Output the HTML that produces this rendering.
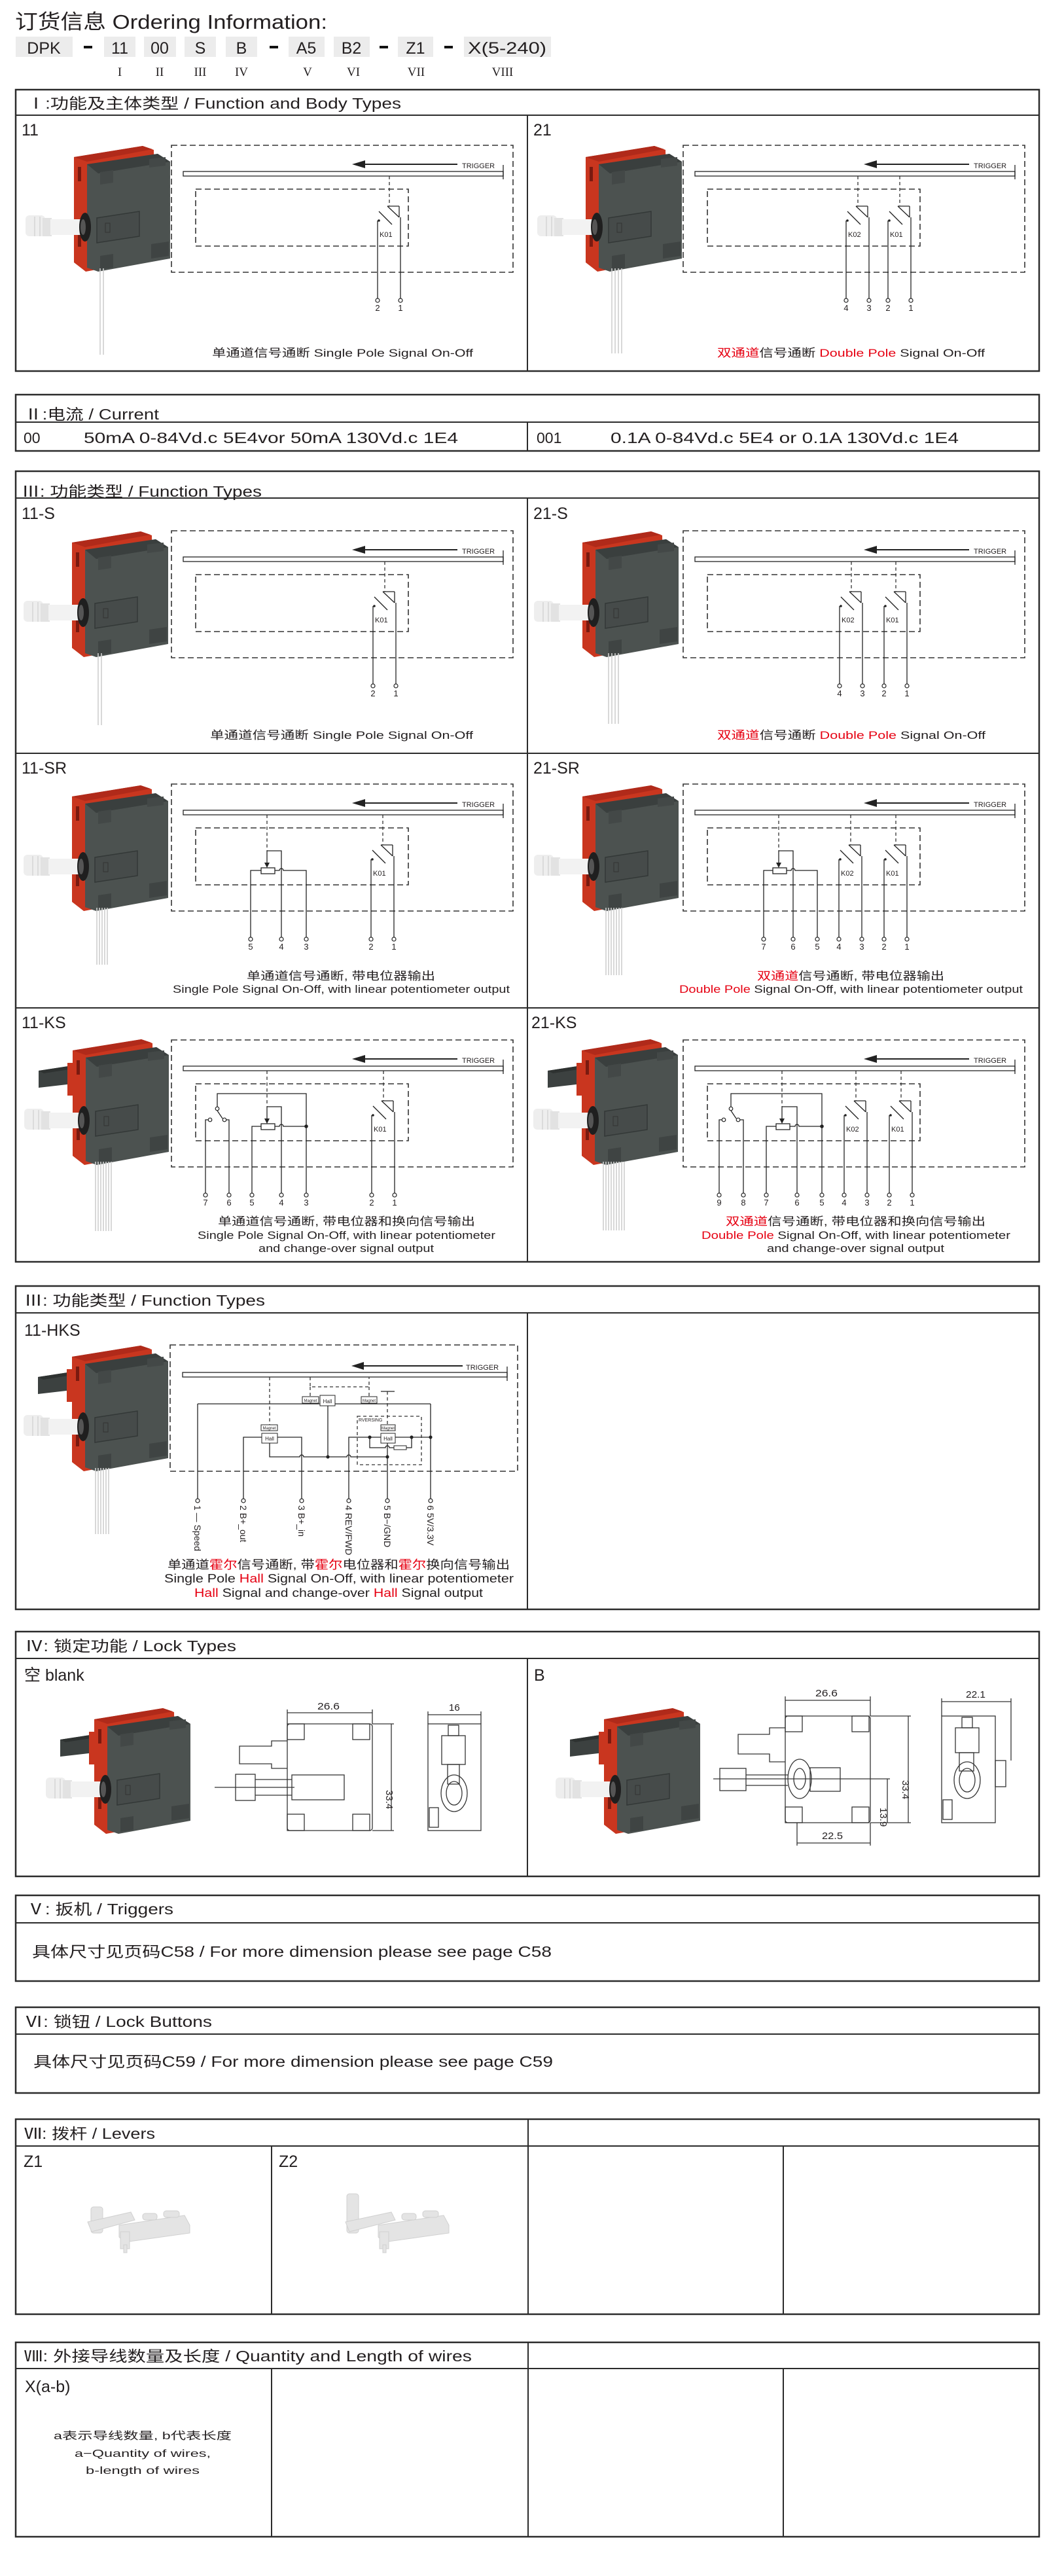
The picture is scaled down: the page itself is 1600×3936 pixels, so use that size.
<!DOCTYPE html>
<html><head><meta charset="utf-8">
<style>
html,body{margin:0;padding:0;background:#fff;}
svg{display:block;}
.t{font-family:"Liberation Sans","Noto Sans CJK SC",sans-serif;fill:#231f20;}
.s{font-family:"Liberation Serif","Noto Serif CJK SC",serif;fill:#231f20;}
.d{fill:none;stroke:#333;stroke-width:1.6;stroke-dasharray:9 5;}
.dd{fill:none;stroke:#333;stroke-width:1.3;stroke-dasharray:5 4;}
.l{fill:none;stroke:#222;stroke-width:1.3;}
.b{fill:none;stroke:#2b2b2b;stroke-width:2.5;}
.bi{fill:none;stroke:#2b2b2b;stroke-width:2;}
.c{fill:#fff;stroke:#222;stroke-width:1.2;}
.w{stroke:#cfcfcf;stroke-width:1.6;}
.r{fill:#e60012;}
.g{fill:none;stroke:#333;stroke-width:1.3;}
</style></head><body>
<svg width="1600" height="3936" viewBox="0 0 1600 3936" xmlns="http://www.w3.org/2000/svg" xmlns:xlink="http://www.w3.org/1999/xlink">
<defs>
 <g id="prod">
  <polygon points="0,17 105,0 122,6 125,172 18,192 0,178" fill="#c9361f"/>
  <polygon points="0,17 105,0 120,5 20,24" fill="#b02a1a"/>
  <polygon points="20,28 128,12 147,24 147,172 37,192 20,186" fill="#4c5250"/>
  <polygon points="20,28 128,12 147,24 37,42" fill="#3a3f3e"/>
  <rect x="6" y="32" width="5" height="22" fill="#7a1a10"/>
  <rect x="6" y="132" width="5" height="22" fill="#7a1a10"/>
  <polygon points="40,40 60,37 60,56 40,59" fill="#434847"/>
  <polygon points="115,20 140,17 140,30 115,33" fill="#434847"/>
  <polygon points="40,168 60,165 60,186 40,189" fill="#3f4443"/>
  <polygon points="118,150 145,146 145,168 118,172" fill="#3f4443"/>
  <polygon points="35,110 100,100 100,138 35,148" fill="#464b4a" stroke="#333837" stroke-width="1.5"/>
  <rect x="48" y="118" width="7" height="14" fill="none" stroke="#333" stroke-width="1"/>
  <rect x="-74" y="106" width="30" height="32" rx="6" fill="#eeeeee"/>
  <rect x="-48" y="110" width="14" height="28" fill="#e2e2e2"/>
  <rect x="-36" y="112" width="52" height="24" fill="#f2f2f2"/>
  <line x1="-60" y1="108" x2="-60" y2="138" stroke="#c8c8c8"/>
  <line x1="-52" y1="108" x2="-52" y2="138" stroke="#c8c8c8"/>
  <ellipse cx="17" cy="124" rx="9" ry="22" fill="#1f1f1f"/>
  <ellipse cx="14" cy="124" rx="4" ry="12" fill="#555"/>
 </g>
 <g id="lev">
  <polygon points="-52,48 0,40 0,68 -52,74" fill="#3c4140"/>
  <polygon points="-52,48 0,40 8,44 -44,52" fill="#2e3231"/>
  <rect x="-8" y="36" width="14" height="50" fill="#c9361f"/>
 </g>
 <g id="fr">
  <rect class="d" x="238" y="50" width="522" height="194"/>
  <rect x="256" y="90" width="489" height="7" fill="#fff" stroke="#222" stroke-width="1.3"/>
  <line class="l" x1="745" y1="80" x2="745" y2="102" stroke-width="2"/>
  <line x1="528" y1="79" x2="675" y2="79" stroke="#222" stroke-width="2"/>
  <polygon points="514,79 534,73 534,85" fill="#222"/>
  <rect class="d" x="275" y="117" width="325" height="87"/>
 </g>
 <g id="sw">
  <line class="l" x1="-3" y1="0" x2="15" y2="0"/>
  <line class="l" x1="-3" y1="0" x2="15" y2="17"/>
  <line class="l" x1="15" y1="0" x2="15" y2="17"/>
  <line class="l" x1="-16" y1="8" x2="4" y2="28"/>
  <circle cx="-16" cy="22" r="1.8" fill="#222"/>
 </g>
 <g id="pot">
  <rect x="-10" y="-4" width="21" height="9" fill="#fff" stroke="#222" stroke-width="1.3"/>
 </g>
</defs>

<!-- Title -->
<text class="t" x="23" y="44" font-size="31" textLength="477" lengthAdjust="spacingAndGlyphs">订货信息 Ordering Information:</text>
<g fill="#ececec">
<rect x="24" y="56" width="87" height="31"/><rect x="159" y="56" width="48" height="31"/><rect x="220" y="56" width="49" height="31"/>
<rect x="282" y="56" width="48" height="31"/><rect x="345" y="56" width="48" height="31"/><rect x="441" y="56" width="55" height="31"/>
<rect x="510" y="56" width="55" height="31"/><rect x="608" y="56" width="54" height="31"/><rect x="709" y="56" width="133" height="31"/>
</g>
<g fill="#111"><rect x="128" y="70" width="13" height="4"/><rect x="412" y="70" width="13" height="4"/><rect x="580" y="70" width="13" height="4"/><rect x="679" y="70" width="13" height="4"/></g>
<g class="t" font-size="25" text-anchor="middle">
<text x="67" y="82">DPK</text><text x="183" y="82">11</text><text x="244" y="82">00</text><text x="306" y="82">S</text><text x="369" y="82">B</text>
<text x="468" y="82">A5</text><text x="537" y="82">B2</text><text x="635" y="82">Z1</text><text x="775" y="82" textLength="120" lengthAdjust="spacingAndGlyphs">X(5-240)</text>
</g>
<g class="s" font-size="19" text-anchor="middle">
<text x="183" y="116">I</text><text x="244" y="116">II</text><text x="306" y="116">III</text><text x="369" y="116">IV</text>
<text x="470" y="116">V</text><text x="540" y="116">VI</text><text x="636" y="116">VII</text><text x="768" y="116">VIII</text>
</g>

<!-- Section frames -->
<g>
<rect class="b" x="24" y="137" width="1564" height="430"/><line class="bi" x1="24" y1="176" x2="1588" y2="176"/><line class="bi" x1="806" y1="176" x2="806" y2="567"/>
<rect class="b" x="24" y="603" width="1564" height="86"/><line class="bi" x1="24" y1="645" x2="1588" y2="645"/><line class="bi" x1="806" y1="645" x2="806" y2="689"/>
<rect class="b" x="24" y="720" width="1564" height="1208"/><line class="bi" x1="24" y1="761" x2="1588" y2="761"/><line class="bi" x1="806" y1="761" x2="806" y2="1928"/>
<line class="bi" x1="24" y1="1151" x2="1588" y2="1151"/><line class="bi" x1="24" y1="1540" x2="1588" y2="1540"/>
<rect class="b" x="24" y="1965" width="1564" height="494"/><line class="bi" x1="24" y1="2006" x2="1588" y2="2006"/><line class="bi" x1="806" y1="2006" x2="806" y2="2459"/>
<rect class="b" x="24" y="2493" width="1564" height="374"/><line class="bi" x1="24" y1="2534" x2="1588" y2="2534"/><line class="bi" x1="806" y1="2534" x2="806" y2="2867"/>
<rect class="b" x="24" y="2896" width="1564" height="131"/><line class="bi" x1="24" y1="2938" x2="1588" y2="2938"/>
<rect class="b" x="24" y="3067" width="1564" height="131"/><line class="bi" x1="24" y1="3108" x2="1588" y2="3108"/>
<rect class="b" x="24" y="3238" width="1564" height="298"/><line class="bi" x1="24" y1="3279" x2="1588" y2="3279"/><line class="bi" x1="807" y1="3238" x2="807" y2="3536"/><line class="bi" x1="415" y1="3279" x2="415" y2="3536"/><line class="bi" x1="1197" y1="3279" x2="1197" y2="3536"/>
<rect class="b" x="24" y="3579" width="1564" height="297"/><line class="bi" x1="24" y1="3619" x2="1588" y2="3619"/><line class="bi" x1="807" y1="3579" x2="807" y2="3876"/><line class="bi" x1="415" y1="3619" x2="415" y2="3876"/><line class="bi" x1="1197" y1="3619" x2="1197" y2="3876"/>
</g>

<!-- Headers -->
<g class="t" font-size="23">
<text x="41" y="166" textLength="572" lengthAdjust="spacingAndGlyphs">Ⅰ:功能及主体类型 / Function and Body Types</text>
<text x="37" y="641" textLength="206" lengthAdjust="spacingAndGlyphs">Ⅱ:电流 / Current</text>
<text x="33" y="759" textLength="367" lengthAdjust="spacingAndGlyphs">Ⅲ: 功能类型 / Function Types</text>
<text x="37" y="1995" textLength="368" lengthAdjust="spacingAndGlyphs">Ⅲ: 功能类型 / Function Types</text>
<text x="38" y="2523" textLength="323" lengthAdjust="spacingAndGlyphs">Ⅳ: 锁定功能 / Lock Types</text>
<text x="41" y="2925" textLength="224" lengthAdjust="spacingAndGlyphs">Ⅴ: 扳机  / Triggers</text>
<text x="38" y="3097" textLength="286" lengthAdjust="spacingAndGlyphs">Ⅵ: 锁钮  / Lock Buttons</text>
<text x="37" y="3268" textLength="200" lengthAdjust="spacingAndGlyphs">Ⅶ: 拨杆 / Levers</text>
<text x="37" y="3608" textLength="684" lengthAdjust="spacingAndGlyphs">Ⅷ: 外接导线数量及长度  / Quantity and Length of wires</text>
<text x="49" y="2990" textLength="794" lengthAdjust="spacingAndGlyphs">具体尺寸见页码C58 / For more dimension please see page C58</text>
<text x="51" y="3158" textLength="794" lengthAdjust="spacingAndGlyphs">具体尺寸见页码C59 / For more dimension please see page C59</text>
<text x="36" y="677">00</text>
<text x="128" y="677" textLength="572" lengthAdjust="spacingAndGlyphs">50mA  0-84Vd.c  5E4vor 50mA  130Vd.c  1E4</text>
<text x="820" y="677">001</text>
<text x="933" y="677" textLength="532" lengthAdjust="spacingAndGlyphs">0.1A  0-84Vd.c  5E4 or 0.1A  130Vd.c  1E4</text>
</g>
<!-- Row labels -->
<g class="t" font-size="25">
<text x="33" y="207">11</text><text x="815" y="207">21</text>
<text x="33" y="793">11-S</text><text x="815" y="793">21-S</text>
<text x="33" y="1182">11-SR</text><text x="815" y="1182">21-SR</text>
<text x="33" y="1571">11-KS</text><text x="812" y="1571">21-KS</text>
<text x="37" y="2041">11-HKS</text>
<text x="37" y="2568">空 blank</text><text x="816" y="2568">B</text>
<text x="36" y="3311">Z1</text><text x="426" y="3311">Z2</text>
<text x="38" y="3655">X(a-b)</text>
</g>

<!-- Products -->
<g>
<use xlink:href="#prod" x="113" y="223"/>
<g class="w"><line x1="153" y1="410" x2="153" y2="542"/><line x1="158" y1="410" x2="158" y2="542"/></g>
<use xlink:href="#prod" x="895" y="223"/>
<g class="w"><line x1="935" y1="410" x2="935" y2="540"/><line x1="940" y1="410" x2="940" y2="540"/><line x1="945" y1="410" x2="945" y2="540"/><line x1="950" y1="410" x2="950" y2="540"/></g>
<use xlink:href="#prod" x="110" y="812"/>
<g class="w"><line x1="150" y1="998" x2="150" y2="1108"/><line x1="155" y1="998" x2="155" y2="1108"/></g>
<use xlink:href="#prod" x="890" y="812"/>
<g class="w"><line x1="930" y1="998" x2="930" y2="1106"/><line x1="935" y1="998" x2="935" y2="1106"/><line x1="940" y1="998" x2="940" y2="1106"/><line x1="945" y1="998" x2="945" y2="1106"/></g>
<use xlink:href="#prod" x="110" y="1200"/>
<g class="w"><line x1="148" y1="1387" x2="148" y2="1474"/><line x1="152" y1="1387" x2="152" y2="1474"/><line x1="156" y1="1387" x2="156" y2="1474"/><line x1="160" y1="1387" x2="160" y2="1474"/><line x1="164" y1="1387" x2="164" y2="1474"/></g>
<use xlink:href="#prod" x="890" y="1200"/>
<g class="w"><line x1="926" y1="1387" x2="926" y2="1490"/><line x1="930" y1="1387" x2="930" y2="1490"/><line x1="934" y1="1387" x2="934" y2="1490"/><line x1="938" y1="1387" x2="938" y2="1490"/><line x1="942" y1="1387" x2="942" y2="1490"/><line x1="946" y1="1387" x2="946" y2="1490"/><line x1="950" y1="1387" x2="950" y2="1490"/></g>
<use xlink:href="#lev" x="111" y="1588"/><use xlink:href="#prod" x="111" y="1588"/>
<g class="w"><line x1="146" y1="1775" x2="146" y2="1881"/><line x1="150" y1="1775" x2="150" y2="1881"/><line x1="154" y1="1775" x2="154" y2="1881"/><line x1="158" y1="1775" x2="158" y2="1881"/><line x1="162" y1="1775" x2="162" y2="1881"/><line x1="166" y1="1775" x2="166" y2="1881"/><line x1="170" y1="1775" x2="170" y2="1881"/></g>
<use xlink:href="#lev" x="889" y="1588"/><use xlink:href="#prod" x="889" y="1588"/>
<g class="w"><line x1="922" y1="1775" x2="922" y2="1880"/><line x1="926" y1="1775" x2="926" y2="1880"/><line x1="930" y1="1775" x2="930" y2="1880"/><line x1="934" y1="1775" x2="934" y2="1880"/><line x1="938" y1="1775" x2="938" y2="1880"/><line x1="942" y1="1775" x2="942" y2="1880"/><line x1="946" y1="1775" x2="946" y2="1880"/><line x1="950" y1="1775" x2="950" y2="1880"/><line x1="954" y1="1775" x2="954" y2="1880"/></g>
<use xlink:href="#lev" x="110" y="2056"/><use xlink:href="#prod" x="110" y="2056"/>
<g class="w"><line x1="146" y1="2243" x2="146" y2="2344"/><line x1="150" y1="2243" x2="150" y2="2344"/><line x1="154" y1="2243" x2="154" y2="2344"/><line x1="158" y1="2243" x2="158" y2="2344"/><line x1="162" y1="2243" x2="162" y2="2344"/><line x1="166" y1="2243" x2="166" y2="2344"/></g>
<use xlink:href="#lev" x="144" y="2610"/><use xlink:href="#prod" x="144" y="2610"/>
<use xlink:href="#lev" x="923" y="2610"/><use xlink:href="#prod" x="923" y="2610"/>
</g>

<!-- ===== Section I circuits ===== -->
<g transform="translate(24,172)">
<use xlink:href="#fr"/>
<text class="t" x="682" y="85" font-size="11">TRIGGER</text>
<line class="dd" x1="571" y1="97" x2="571" y2="143"/><use xlink:href="#sw" x="571" y="143"/>
<text class="t" x="556" y="190" font-size="11">K01</text>
<line class="l" x1="553" y1="165" x2="553" y2="284"/><line class="l" x1="588" y1="160" x2="588" y2="284"/>
<circle class="c" cx="553" cy="287" r="3"/><circle class="c" cx="588" cy="287" r="3"/>
<g class="t" font-size="13" text-anchor="middle"><text x="553" y="303">2</text><text x="588" y="303">1</text></g>
</g>
<g transform="translate(806,172)">
<use xlink:href="#fr"/>
<text class="t" x="682" y="85" font-size="11">TRIGGER</text>
<line class="dd" x1="505" y1="97" x2="505" y2="143"/><use xlink:href="#sw" x="505" y="143"/>
<line class="dd" x1="569" y1="97" x2="569" y2="143"/><use xlink:href="#sw" x="569" y="143"/>
<text class="t" x="490" y="190" font-size="11">K02</text><text class="t" x="554" y="190" font-size="11">K01</text>
<line class="l" x1="487" y1="165" x2="487" y2="284"/><line class="l" x1="522" y1="160" x2="522" y2="284"/>
<line class="l" x1="551" y1="165" x2="551" y2="284"/><line class="l" x1="586" y1="160" x2="586" y2="284"/>
<circle class="c" cx="487" cy="287" r="3"/><circle class="c" cx="522" cy="287" r="3"/><circle class="c" cx="551" cy="287" r="3"/><circle class="c" cx="586" cy="287" r="3"/>
<g class="t" font-size="13" text-anchor="middle"><text x="487" y="303">4</text><text x="522" y="303">3</text><text x="551" y="303">2</text><text x="586" y="303">1</text></g>
</g>
<g class="t" font-size="17">
<text x="324" y="545" textLength="399" lengthAdjust="spacingAndGlyphs">单通道信号通断  Single Pole Signal On-Off</text>
<text x="1096" y="545" textLength="409" lengthAdjust="spacingAndGlyphs"><tspan class="r">双通道</tspan>信号通断  <tspan class="r">Double Pole</tspan> Signal On-Off</text>
</g>

<!-- ===== III-S ===== -->
<g transform="translate(24,761)">
<use xlink:href="#fr"/>
<text class="t" x="682" y="85" font-size="11">TRIGGER</text>
<line class="dd" x1="564" y1="97" x2="564" y2="143"/><use xlink:href="#sw" x="564" y="143"/>
<text class="t" x="549" y="190" font-size="11">K01</text>
<line class="l" x1="546" y1="165" x2="546" y2="284"/><line class="l" x1="581" y1="160" x2="581" y2="284"/>
<circle class="c" cx="546" cy="287" r="3"/><circle class="c" cx="581" cy="287" r="3"/>
<g class="t" font-size="13" text-anchor="middle"><text x="546" y="303">2</text><text x="581" y="303">1</text></g>
</g>
<g transform="translate(806,761)">
<use xlink:href="#fr"/>
<text class="t" x="682" y="85" font-size="11">TRIGGER</text>
<line class="dd" x1="495" y1="97" x2="495" y2="143"/><use xlink:href="#sw" x="495" y="143"/>
<line class="dd" x1="563" y1="97" x2="563" y2="143"/><use xlink:href="#sw" x="563" y="143"/>
<text class="t" x="480" y="190" font-size="11">K02</text><text class="t" x="548" y="190" font-size="11">K01</text>
<line class="l" x1="477" y1="165" x2="477" y2="284"/><line class="l" x1="512" y1="160" x2="512" y2="284"/>
<line class="l" x1="545" y1="165" x2="545" y2="284"/><line class="l" x1="580" y1="160" x2="580" y2="284"/>
<circle class="c" cx="477" cy="287" r="3"/><circle class="c" cx="512" cy="287" r="3"/><circle class="c" cx="545" cy="287" r="3"/><circle class="c" cx="580" cy="287" r="3"/>
<g class="t" font-size="13" text-anchor="middle"><text x="477" y="303">4</text><text x="512" y="303">3</text><text x="545" y="303">2</text><text x="580" y="303">1</text></g>
</g>
<g class="t" font-size="17">
<text x="321" y="1129" textLength="402" lengthAdjust="spacingAndGlyphs">单通道信号通断  Single Pole Signal On-Off</text>
<text x="1096" y="1129" textLength="410" lengthAdjust="spacingAndGlyphs"><tspan class="r">双通道</tspan>信号通断  <tspan class="r">Double Pole</tspan> Signal On-Off</text>
</g>

<!-- ===== III-SR ===== -->
<g transform="translate(24,1148)">
<use xlink:href="#fr"/>
<text class="t" x="682" y="85" font-size="11">TRIGGER</text>
<line class="dd" x1="384" y1="97" x2="384" y2="152"/>
<polyline class="l" points="384,152 406,152 406,284"/>
<line class="l" x1="384" y1="152" x2="384" y2="172"/><polygon points="380,170 388,170 384,178" fill="#222"/>
<use xlink:href="#pot" x="385" y="182"/>
<polyline class="l" points="375,182 359,182 359,284"/>
<path class="l" d="M396,182 H403 A3,3 0 0 1 409,182 H444 V284"/>
<line class="dd" x1="561" y1="97" x2="561" y2="143"/><use xlink:href="#sw" x="561" y="143"/>
<text class="t" x="546" y="190" font-size="11">K01</text>
<line class="l" x1="543" y1="165" x2="543" y2="284"/><line class="l" x1="578" y1="160" x2="578" y2="284"/>
<g><circle class="c" cx="359" cy="287" r="3"/><circle class="c" cx="406" cy="287" r="3"/><circle class="c" cx="444" cy="287" r="3"/><circle class="c" cx="543" cy="287" r="3"/><circle class="c" cx="578" cy="287" r="3"/></g>
<g class="t" font-size="13" text-anchor="middle"><text x="359" y="303">5</text><text x="406" y="303">4</text><text x="444" y="303">3</text><text x="543" y="303">2</text><text x="578" y="303">1</text></g>
</g>
<g transform="translate(806,1148)">
<use xlink:href="#fr"/>
<text class="t" x="682" y="85" font-size="11">TRIGGER</text>
<line class="dd" x1="384" y1="97" x2="384" y2="152"/>
<polyline class="l" points="384,152 406,152 406,284"/>
<line class="l" x1="384" y1="152" x2="384" y2="172"/><polygon points="380,170 388,170 384,178" fill="#222"/>
<use xlink:href="#pot" x="385" y="182"/>
<polyline class="l" points="375,182 361,182 361,284"/>
<path class="l" d="M396,182 H403 A3,3 0 0 1 409,182 H443 V284"/>
<line class="dd" x1="494" y1="97" x2="494" y2="143"/><use xlink:href="#sw" x="494" y="143"/>
<line class="dd" x1="563" y1="97" x2="563" y2="143"/><use xlink:href="#sw" x="563" y="143"/>
<text class="t" x="479" y="190" font-size="11">K02</text><text class="t" x="548" y="190" font-size="11">K01</text>
<line class="l" x1="476" y1="165" x2="476" y2="284"/><line class="l" x1="511" y1="160" x2="511" y2="284"/>
<line class="l" x1="545" y1="165" x2="545" y2="284"/><line class="l" x1="580" y1="160" x2="580" y2="284"/>
<g><circle class="c" cx="361" cy="287" r="3"/><circle class="c" cx="406" cy="287" r="3"/><circle class="c" cx="443" cy="287" r="3"/><circle class="c" cx="476" cy="287" r="3"/><circle class="c" cx="511" cy="287" r="3"/><circle class="c" cx="545" cy="287" r="3"/><circle class="c" cx="580" cy="287" r="3"/></g>
<g class="t" font-size="13" text-anchor="middle"><text x="361" y="303">7</text><text x="406" y="303">6</text><text x="443" y="303">5</text><text x="476" y="303">4</text><text x="511" y="303">3</text><text x="545" y="303">2</text><text x="580" y="303">1</text></g>
</g>
<g class="t" font-size="17">
<text x="377" y="1497" textLength="288" lengthAdjust="spacingAndGlyphs">单通道信号通断, 带电位器输出</text>
<text x="264" y="1517" textLength="515" lengthAdjust="spacingAndGlyphs">Single Pole Signal On-Off,  with linear potentiometer output</text>
<text x="1157" y="1497" textLength="286" lengthAdjust="spacingAndGlyphs"><tspan class="r">双通道</tspan>信号通断, 带电位器输出</text>
<text x="1038" y="1517" textLength="525" lengthAdjust="spacingAndGlyphs"><tspan class="r">Double Pole</tspan> Signal On-Off,  with linear potentiometer output</text>
</g>

<!-- ===== III-KS ===== -->
<g transform="translate(24,1539)">
<use xlink:href="#fr"/>
<text class="t" x="682" y="85" font-size="11">TRIGGER</text>
<polyline class="l" points="308,152 308,132 444,132 444,284"/>
<circle class="c" cx="308" cy="155" r="2.8"/>
<line class="l" x1="308" y1="158" x2="316" y2="170"/>
<circle class="c" cx="297" cy="172" r="2.8"/><circle class="c" cx="319" cy="172" r="2.8"/>
<polyline class="l" points="294,172 290,172 290,284"/><polyline class="l" points="322,172 326,172 326,284"/>
<line class="dd" x1="384" y1="97" x2="384" y2="152"/>
<polyline class="l" points="384,152 406,152 406,284"/>
<line class="l" x1="384" y1="152" x2="384" y2="172"/><polygon points="380,170 388,170 384,178" fill="#222"/>
<use xlink:href="#pot" x="385" y="182"/>
<polyline class="l" points="375,182 361,182 361,284"/>
<path class="l" d="M396,182 H403 A3,3 0 0 1 409,182 H444"/>
<circle cx="444" cy="182" r="2.8" fill="#222"/>
<line class="dd" x1="562" y1="97" x2="562" y2="143"/><use xlink:href="#sw" x="562" y="143"/>
<text class="t" x="547" y="190" font-size="11">K01</text>
<line class="l" x1="544" y1="165" x2="544" y2="284"/><line class="l" x1="579" y1="160" x2="579" y2="284"/>
<g><circle class="c" cx="290" cy="287" r="3"/><circle class="c" cx="326" cy="287" r="3"/><circle class="c" cx="361" cy="287" r="3"/><circle class="c" cx="406" cy="287" r="3"/><circle class="c" cx="444" cy="287" r="3"/><circle class="c" cx="544" cy="287" r="3"/><circle class="c" cx="579" cy="287" r="3"/></g>
<g class="t" font-size="13" text-anchor="middle"><text x="290" y="303">7</text><text x="326" y="303">6</text><text x="361" y="303">5</text><text x="406" y="303">4</text><text x="444" y="303">3</text><text x="544" y="303">2</text><text x="579" y="303">1</text></g>
</g>
<g transform="translate(806,1539)">
<use xlink:href="#fr"/>
<text class="t" x="682" y="85" font-size="11">TRIGGER</text>
<polyline class="l" points="311,152 311,132 450,132 450,284"/>
<circle class="c" cx="311" cy="155" r="2.8"/>
<line class="l" x1="311" y1="158" x2="319" y2="170"/>
<circle class="c" cx="300" cy="172" r="2.8"/><circle class="c" cx="322" cy="172" r="2.8"/>
<polyline class="l" points="297,172 293,172 293,284"/><polyline class="l" points="325,172 330,172 330,284"/>
<line class="dd" x1="389" y1="97" x2="389" y2="152"/>
<polyline class="l" points="389,152 412,152 412,284"/>
<line class="l" x1="389" y1="152" x2="389" y2="172"/><polygon points="385,170 393,170 389,178" fill="#222"/>
<use xlink:href="#pot" x="390" y="182"/>
<polyline class="l" points="380,182 365,182 365,284"/>
<path class="l" d="M401,182 H409 A3,3 0 0 1 415,182 H450"/>
<circle cx="450" cy="182" r="2.8" fill="#222"/>
<line class="dd" x1="502" y1="97" x2="502" y2="143"/><use xlink:href="#sw" x="502" y="143"/>
<line class="dd" x1="571" y1="97" x2="571" y2="143"/><use xlink:href="#sw" x="571" y="143"/>
<text class="t" x="487" y="190" font-size="11">K02</text><text class="t" x="556" y="190" font-size="11">K01</text>
<line class="l" x1="484" y1="165" x2="484" y2="284"/><line class="l" x1="519" y1="160" x2="519" y2="284"/>
<line class="l" x1="553" y1="165" x2="553" y2="284"/><line class="l" x1="588" y1="160" x2="588" y2="284"/>
<g><circle class="c" cx="293" cy="287" r="3"/><circle class="c" cx="330" cy="287" r="3"/><circle class="c" cx="365" cy="287" r="3"/><circle class="c" cx="412" cy="287" r="3"/><circle class="c" cx="450" cy="287" r="3"/><circle class="c" cx="484" cy="287" r="3"/><circle class="c" cx="519" cy="287" r="3"/><circle class="c" cx="553" cy="287" r="3"/><circle class="c" cx="588" cy="287" r="3"/></g>
<g class="t" font-size="13" text-anchor="middle"><text x="293" y="303">9</text><text x="330" y="303">8</text><text x="365" y="303">7</text><text x="412" y="303">6</text><text x="450" y="303">5</text><text x="484" y="303">4</text><text x="519" y="303">3</text><text x="553" y="303">2</text><text x="588" y="303">1</text></g>
</g>
<g class="t" font-size="17">
<text x="333" y="1872" textLength="393" lengthAdjust="spacingAndGlyphs">单通道信号通断, 带电位器和换向信号输出</text>
<text x="302" y="1893" textLength="455" lengthAdjust="spacingAndGlyphs">Single Pole Signal On-Off,  with linear potentiometer</text>
<text x="395" y="1913" textLength="268" lengthAdjust="spacingAndGlyphs">and change-over signal output</text>
<text x="1109" y="1872" textLength="397" lengthAdjust="spacingAndGlyphs"><tspan class="r">双通道</tspan>信号通断, 带电位器和换向信号输出</text>
<text x="1072" y="1893" textLength="472" lengthAdjust="spacingAndGlyphs"><tspan class="r">Double Pole</tspan> Signal On-Off,  with linear potentiometer</text>
<text x="1172" y="1913" textLength="271" lengthAdjust="spacingAndGlyphs">and change-over signal output</text>
</g>

<!-- ===== HKS ===== -->
<g>
<rect class="d" x="260" y="2055" width="531" height="193"/>
<rect x="279" y="2097" width="496" height="7" fill="#fff" stroke="#222" stroke-width="1.3"/>
<line class="l" x1="775" y1="2088" x2="775" y2="2110" stroke-width="2"/>
<line x1="551" y1="2087" x2="707" y2="2087" stroke="#222" stroke-width="2"/>
<polygon points="537,2087 556,2081 556,2093" fill="#222"/>
<text class="t" x="712" y="2093" font-size="11">TRIGGER</text>
<line class="dd" x1="412" y1="2104" x2="412" y2="2177"/>
<polyline class="dd" points="474,2104 474,2119 564,2119 564,2104"/>
<line class="dd" x1="474" y1="2119" x2="474" y2="2134"/><line class="dd" x1="564" y1="2119" x2="564" y2="2134"/>
<line class="l" x1="582" y1="2126" x2="603" y2="2126"/><line class="dd" x1="592" y1="2126" x2="592" y2="2178"/>
<line class="l" x1="302" y1="2145" x2="658" y2="2145"/>
<rect x="462" y="2134" width="25" height="10" fill="#fff" stroke="#222"/><text class="t" x="474.5" y="2142" font-size="6" text-anchor="middle">Magnet</text>
<rect x="552" y="2134" width="24" height="10" fill="#fff" stroke="#222"/><text class="t" x="564" y="2142" font-size="6" text-anchor="middle">Magnet</text>
<rect x="489" y="2132" width="23" height="16" fill="#fff" stroke="#222"/><text class="t" x="500.5" y="2144" font-size="8" text-anchor="middle">Hall</text>
<line class="l" x1="501" y1="2148" x2="501" y2="2226"/>
<rect x="399" y="2177" width="25" height="9" fill="#fff" stroke="#222"/><text class="t" x="411.5" y="2184" font-size="6" text-anchor="middle">Magnet</text>
<rect x="400" y="2190" width="24" height="15" fill="#fff" stroke="#222"/><text class="t" x="412" y="2201" font-size="8" text-anchor="middle">Hall</text>
<polyline class="l" points="400,2196 372,2196 372,2290"/>
<polyline class="l" points="424,2196 461,2196 461,2290"/>
<path class="l" d="M412,2205 V2226 H458 A3,3 0 0 1 464,2226 H530 A3,3 0 0 1 536,2226 H592"/>
<circle cx="501" cy="2226" r="2.6" fill="#222"/><circle cx="592" cy="2226" r="2.6" fill="#222"/>
<rect class="dd" x="546" y="2164" width="98" height="74"/>
<text class="t" x="548" y="2172" font-size="7">RVERSING</text>
<rect x="582" y="2177" width="22" height="9" fill="#fff" stroke="#222"/><text class="t" x="593" y="2184" font-size="6" text-anchor="middle">Magnet</text>
<rect x="582" y="2190" width="22" height="15" fill="#fff" stroke="#222"/><text class="t" x="593" y="2201" font-size="8" text-anchor="middle">Hall</text>
<polyline class="l" points="533,2290 533,2196 582,2196"/>
<line class="l" x1="604" y1="2196" x2="658" y2="2196"/>
<circle cx="565" cy="2196" r="2.6" fill="#222"/><circle cx="629" cy="2196" r="2.6" fill="#222"/><circle cx="658" cy="2196" r="2.6" fill="#222"/>
<path class="l" d="M565,2196 V2212 H589 A3,3 0 0 1 595,2212 H602"/>
<rect x="602" y="2209" width="19" height="6" fill="#fff" stroke="#222"/>
<polyline class="l" points="621,2212 629,2212 629,2196"/>
<line class="l" x1="592" y1="2205" x2="592" y2="2290"/>
<line class="l" x1="302" y1="2145" x2="302" y2="2290"/>
<line class="l" x1="658" y1="2145" x2="658" y2="2290"/>
<g><circle class="c" cx="302" cy="2293" r="3"/><circle class="c" cx="372" cy="2293" r="3"/><circle class="c" cx="461" cy="2293" r="3"/><circle class="c" cx="533" cy="2293" r="3"/><circle class="c" cx="592" cy="2293" r="3"/><circle class="c" cx="658" cy="2293" r="3"/></g>
<g class="t" font-size="14">
<text transform="translate(297,2300) rotate(90)">1 — Speed</text>
<text transform="translate(367,2300) rotate(90)">2 B+_out</text>
<text transform="translate(456,2300) rotate(90)">3 B+_in</text>
<text transform="translate(528,2300) rotate(90)">4 REV/FWD</text>
<text transform="translate(587,2300) rotate(90)">5 B−/GND</text>
<text transform="translate(653,2300) rotate(90)">6 5V/3.3V</text>
</g>
<g class="t" font-size="18">
<text x="256" y="2397" textLength="523" lengthAdjust="spacingAndGlyphs">单通道<tspan class="r">霍尔</tspan>信号通断, 带<tspan class="r">霍尔</tspan>电位器和<tspan class="r">霍尔</tspan>换向信号输出</text>
<text x="251" y="2418" textLength="534" lengthAdjust="spacingAndGlyphs">Single Pole <tspan class="r">Hall</tspan> Signal On-Off,  with linear potentiometer</text>
<text x="297" y="2440" textLength="441" lengthAdjust="spacingAndGlyphs"><tspan class="r">Hall</tspan> Signal and change-over <tspan class="r">Hall</tspan> Signal output</text>
</g>
</g>

<!-- ===== Lock drawings ===== -->
<g class="g">
<!-- blank side view -->
<rect x="439" y="2634" width="130" height="163" rx="4"/>
<rect x="439" y="2634" width="26" height="24"/><rect x="539" y="2634" width="26" height="24"/>
<rect x="439" y="2772" width="26" height="25"/><rect x="539" y="2772" width="26" height="25"/>
<polyline points="439,2660 415,2660 415,2668 366,2668 366,2695 415,2695 415,2702 439,2702"/>
<rect x="446" y="2712" width="80" height="38"/>
<rect x="360" y="2711" width="30" height="40"/><line x1="390" y1="2719" x2="446" y2="2719"/><line x1="390" y1="2743" x2="446" y2="2743"/>
<line x1="328" y1="2731" x2="450" y2="2731"/>
<line x1="439" y1="2617" x2="569" y2="2617"/><line x1="439" y1="2612" x2="439" y2="2634"/><line x1="569" y1="2612" x2="569" y2="2634"/>
<line x1="598" y1="2634" x2="598" y2="2797"/><line x1="569" y1="2634" x2="602" y2="2634"/><line x1="569" y1="2797" x2="602" y2="2797"/>
<!-- blank front -->
<rect x="654" y="2634" width="81" height="163"/>
<rect x="685" y="2636" width="16" height="16"/><rect x="675" y="2652" width="36" height="44"/><rect x="684" y="2696" width="18" height="30"/>
<ellipse cx="694" cy="2740" rx="20" ry="28"/><ellipse cx="694" cy="2740" rx="12" ry="18"/>
<rect x="656" y="2762" width="14" height="30"/>
<line x1="654" y1="2620" x2="735" y2="2620"/><line x1="654" y1="2615" x2="654" y2="2634"/><line x1="735" y1="2615" x2="735" y2="2634"/>
<!-- B side view -->
<rect x="1200" y="2622" width="130" height="163" rx="4"/>
<rect x="1200" y="2622" width="26" height="24"/><rect x="1302" y="2622" width="26" height="24"/>
<rect x="1200" y="2761" width="26" height="24"/><rect x="1302" y="2761" width="26" height="24"/>
<polyline points="1200,2640 1176,2640 1176,2650 1128,2650 1128,2680 1176,2680 1176,2692 1200,2692"/>
<ellipse cx="1222" cy="2718" rx="18" ry="30"/><ellipse cx="1222" cy="2718" rx="9" ry="16"/>
<rect x="1238" y="2701" width="46" height="36"/>
<rect x="1100" y="2702" width="40" height="34"/><line x1="1140" y1="2712" x2="1204" y2="2712"/><line x1="1140" y1="2728" x2="1204" y2="2728"/>
<line x1="1090" y1="2718" x2="1360" y2="2718"/>
<line x1="1200" y1="2598" x2="1330" y2="2598"/><line x1="1200" y1="2592" x2="1200" y2="2622"/><line x1="1330" y1="2592" x2="1330" y2="2622"/>
<line x1="1388" y1="2622" x2="1388" y2="2785"/><line x1="1330" y1="2622" x2="1392" y2="2622"/><line x1="1330" y1="2785" x2="1392" y2="2785"/>
<line x1="1356" y1="2718" x2="1356" y2="2785"/>
<line x1="1218" y1="2816" x2="1330" y2="2816"/><line x1="1218" y1="2785" x2="1218" y2="2820"/><line x1="1330" y1="2785" x2="1330" y2="2820"/>
<!-- B front -->
<rect x="1439" y="2622" width="82" height="163"/>
<rect x="1470" y="2624" width="16" height="16"/><rect x="1460" y="2640" width="36" height="38"/><rect x="1466" y="2678" width="22" height="28"/>
<ellipse cx="1478" cy="2720" rx="20" ry="28"/><ellipse cx="1478" cy="2720" rx="12" ry="18"/>
<rect x="1521" y="2690" width="16" height="40"/><rect x="1441" y="2750" width="14" height="30"/>
<line x1="1439" y1="2600" x2="1545" y2="2600"/><line x1="1439" y1="2595" x2="1439" y2="2622"/><line x1="1545" y1="2595" x2="1545" y2="2690"/>
</g>
<g class="t" font-size="15">
<text x="485" y="2612" textLength="34" lengthAdjust="spacingAndGlyphs">26.6</text>
<text x="686" y="2614">16</text>
<text transform="translate(590,2735) rotate(90)" font-size="15">33.4</text>
<text x="1246" y="2592" textLength="34" lengthAdjust="spacingAndGlyphs">26.6</text>
<text x="1476" y="2594" textLength="30" lengthAdjust="spacingAndGlyphs">22.1</text>
<text transform="translate(1379,2720) rotate(90)">33.4</text>
<text transform="translate(1345,2762) rotate(90)">13.9</text>
<text x="1256" y="2810" textLength="32" lengthAdjust="spacingAndGlyphs">22.5</text>
</g>

<!-- ===== Levers ===== -->
<g fill="#e4e4e4" stroke="#d0d0d0" stroke-width="1">
<rect x="139" y="3372" width="18" height="40" rx="4"/>
<polygon points="134,3395 200,3380 206,3392 140,3410"/>
<polygon points="182,3400 282,3385 290,3400 290,3412 190,3426 182,3418"/>
<rect x="218" y="3382" width="22" height="10" rx="4"/><rect x="250" y="3378" width="24" height="10" rx="4"/>
<rect x="184" y="3410" width="14" height="26"/><rect x="189" y="3430" width="5" height="12"/>
<rect x="530" y="3352" width="18" height="60" rx="4"/>
<polygon points="528,3395 598,3380 604,3392 534,3410"/>
<polygon points="578,3400 678,3385 686,3400 686,3412 586,3426 578,3418"/>
<rect x="614" y="3382" width="22" height="10" rx="4"/><rect x="646" y="3378" width="24" height="10" rx="4"/>
<rect x="580" y="3410" width="14" height="26"/><rect x="585" y="3430" width="5" height="12"/>
</g>

<!-- VIII text -->
<g class="t" font-size="16" text-anchor="middle">
<text x="218" y="3727" textLength="272" lengthAdjust="spacingAndGlyphs">a表示导线数量, b代表长度</text>
<text x="218" y="3754" textLength="208" lengthAdjust="spacingAndGlyphs">a−Quantity of wires,</text>
<text x="218" y="3780" textLength="174" lengthAdjust="spacingAndGlyphs">b-length of wires</text>
</g>
</svg>
</body></html>
